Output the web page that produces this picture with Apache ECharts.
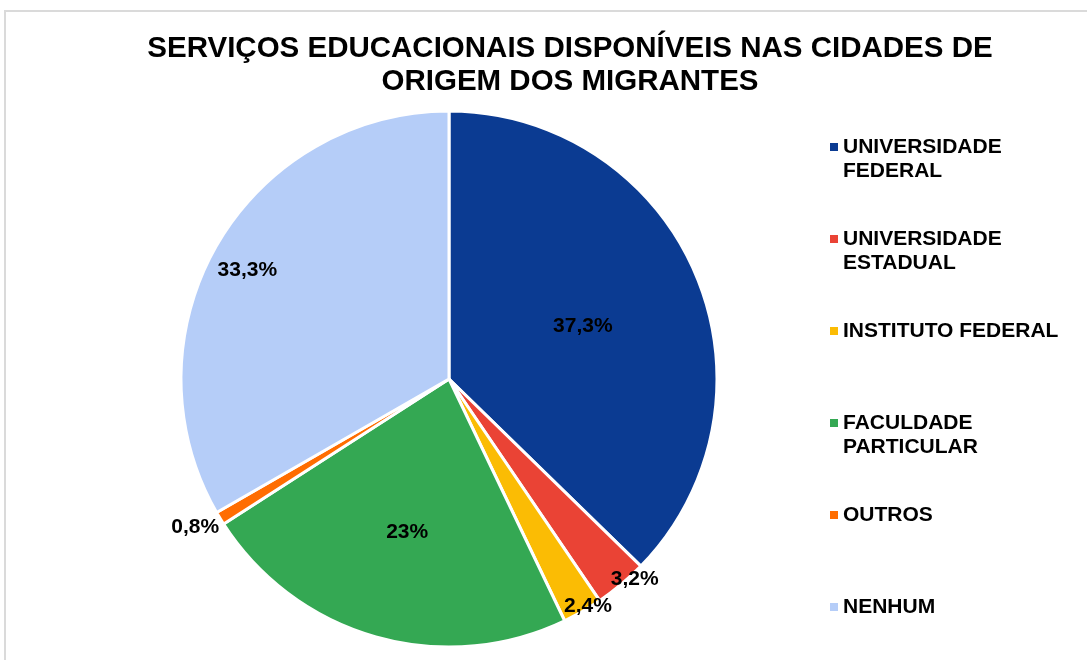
<!DOCTYPE html>
<html>
<head>
<meta charset="utf-8">
<script src="https://cdn.jsdelivr.net/npm/echarts@6/dist/echarts.min.js"></script>
<style>
  html, body { margin: 0; padding: 0; background: #fff; }
  #frame { position: absolute; left: 4px; top: 10px; width: 1200px; height: 800px;
           border-top: 2px solid #dadada; border-left: 2px solid #dadada; }
  #chart { position: absolute; left: 0; top: 0; width: 1087px; height: 660px; }
</style>
</head>
<body>
<div id="frame"></div>
<div id="chart"></div>
<script>
// ---- data ----
const titleText = 'SERVIÇOS EDUCACIONAIS DISPONÍVEIS NAS CIDADES DE\nORIGEM DOS MIGRANTES';
const categories = ['UNIVERSIDADE FEDERAL', 'UNIVERSIDADE ESTADUAL', 'INSTITUTO FEDERAL', 'FACULDADE PARTICULAR', 'OUTROS', 'NENHUM'];
const legendLabels = ['UNIVERSIDADE\nFEDERAL', 'UNIVERSIDADE\nESTADUAL', 'INSTITUTO FEDERAL\n', 'FACULDADE\nPARTICULAR', 'OUTROS\n', 'NENHUM\n'];
const values = [37.3, 3.2, 2.4, 23, 0.8, 33.3];

// ---- style / layout ----
const colors = ['#0b3b92', '#ea4335', '#fbbc04', '#34a853', '#ff6d01', '#b5cdf8'];
const labelDist = [141, 270, 263, 156, 291, 226];      // label distance from centre (px)
const labelShift = [-1.2, 2.9, 1.6, 0.6, -1.0, 1.8];    // label angle nudge (deg)
const CENTER = [449, 379];
const RADIUS = 268;
const FONT = '"Liberation Sans", Arial, sans-serif';

const fmt = v => String(v).replace('.', ',') + '%';

const series = [{
  type: 'pie',
  center: CENTER,
  radius: [0, RADIUS],
  startAngle: 90,
  clockwise: true,
  silent: true,
  label: { show: false },
  labelLine: { show: false },
  itemStyle: { borderColor: '#ffffff', borderWidth: 3 },
  data: categories.map((c, i) => ({ name: c, value: values[i], itemStyle: { color: colors[i] } }))
}];

values.forEach((_, k) => {
  series.push({
    type: 'pie',
    center: CENTER,
    radius: [labelDist[k] - 1, labelDist[k] + 1],
    startAngle: 90 + labelShift[k],
    clockwise: true,
    silent: true,
    legendHoverLink: false,
    z: 5,
    itemStyle: { color: 'rgba(0,0,0,0)', borderWidth: 0 },
    labelLine: { show: false },
    data: values.map((v, j) => ({
      name: 'lbl_' + k + '_' + j,
      value: v,
      label: {
        show: j === k,
        position: 'inside',
        formatter: () => fmt(values[j]),
        color: '#000',
        fontSize: 21,
        fontWeight: 'bold',
        fontFamily: FONT
      }
    }))
  });
});

const chart = echarts.init(document.getElementById('chart'), null, { renderer: 'canvas' });
chart.setOption({
  animation: false,
  backgroundColor: 'transparent',
  title: {
    text: titleText,
    left: 570,
    top: 32,
    textAlign: 'center',
    padding: 0,
    textStyle: { color: '#000', fontSize: 29.5, fontWeight: 'bold', fontFamily: FONT, lineHeight: 33 }
  },
  legend: {
    orient: 'vertical',
    left: 830,
    top: 135,
    padding: 0,
    itemGap: 44,
    itemWidth: 8,
    itemHeight: 48,
    icon: 'path://M0 0L0 0M0 48L0 48M0 8L8 8L8 16L0 16Z',
    itemStyle: { borderWidth: 0 },
    selectedMode: false,
    data: categories,
    formatter: name => legendLabels[categories.indexOf(name)],
    textStyle: { color: '#000', fontSize: 21, fontWeight: 'bold', fontFamily: FONT, lineHeight: 24 }
  },
  series: series
});
</script>
</body>
</html>
